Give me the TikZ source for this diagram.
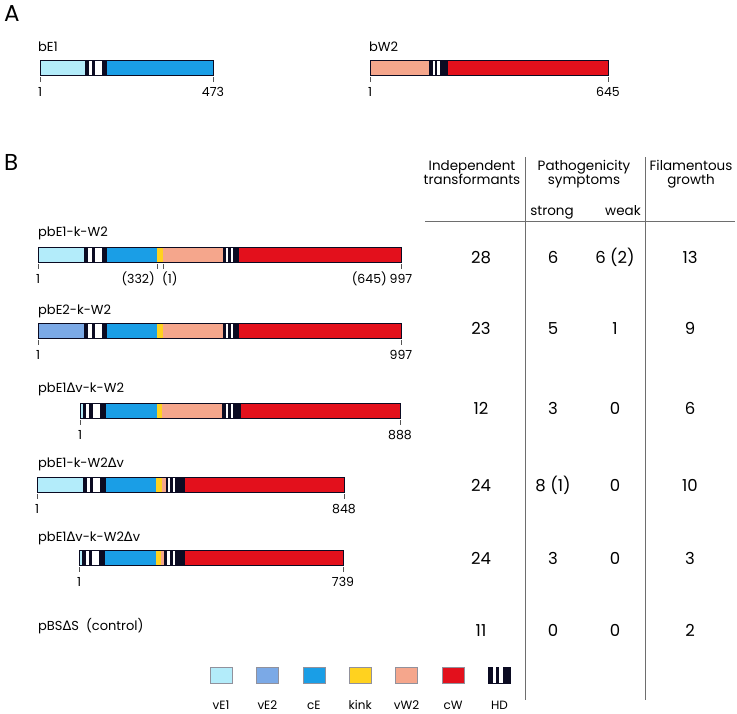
\documentclass[tikz,border=0pt]{standalone}
\usepackage{fontspec}
\setmainfont{Poppins}
\newfontfamily\grkfont{DejaVu Sans}
\usetikzlibrary{positioning}
\definecolor{vEone}{HTML}{B3ECFA}
\definecolor{vEtwo}{HTML}{7BA9E6}
\definecolor{cEcol}{HTML}{1A9EE6}
\definecolor{kinkcol}{HTML}{FFD21F}
\definecolor{vWtwo}{HTML}{F5A68C}
\definecolor{cWcol}{HTML}{E3101C}
\definecolor{hdblack}{HTML}{0B0B22}
\definecolor{tickgray}{HTML}{555555}
\definecolor{rulegray}{HTML}{6E6E6E}
\newcommand{\dlt}{{\grkfont\char"0394}}
\newcommand{\segm}[4]{\fill[#4] (#1,#3) rectangle (#2,#3+15);}
\newcommand{\hdseg}[4]{\fill[hdblack] (#1,#3) rectangle (#2,#3+15);
  \foreach \wa/\wb in {#4} {\fill[white] (\wa,#3) rectangle (\wb,#3+15);}}
\newcommand{\tickat}[4]{\draw[tickmark] (#1,#2+17) -- (#1,#2+22);
  \node[posn] (#4) at (#1,#2+36) {#3};}

\begin{document}
\begin{tikzpicture}[
    x=1pt, y=-1pt,
    panel/.style={font=\fontsize{23}{25}\selectfont, anchor=base west, inner sep=0pt},
    lbl/.style={font=\fontsize{13}{15}\selectfont, anchor=base west, inner sep=0pt},
    posn/.style={font=\fontsize{12.5}{14}\selectfont, anchor=base, inner sep=0pt},
    hdr/.style={font=\fontsize{13.5}{15}\selectfont, anchor=base, inner sep=0pt},
    num/.style={font=\fontsize{16.5}{18}\selectfont, anchor=base, inner sep=0pt},
    legbox/.style={rectangle, draw=hdblack!45, line width=0.4pt, minimum width=22pt, minimum height=16pt, inner sep=0pt},
    legtxt/.style={font=\fontsize{12}{14}\selectfont, anchor=base, inner sep=0pt},
    tickmark/.style={draw=tickgray, line width=0.6pt},
    barline/.style={draw=hdblack, line width=0.6pt},
    rule/.style={draw=rulegray, line width=0.7pt}
]
\fill[white] (0,0) rectangle (737,713);
\useasboundingbox (0,0) rectangle (737,713);

\node[panel] (panA) at (4,21) {A};
\node[lbl] (nbEone) at (38,51) {bE1};
\segm{40}{85}{60}{vEone}
\hdseg{85}{107}{60}{89/92,95/102}
\segm{107}{213}{60}{cEcol}
\draw[barline] (40,60) rectangle (213,75);
\tickat{40}{60}{1}{aEa}
\tickat{213}{60}{473}{aEb}

\node[lbl] (nbWtwo) at (369,51) {bW2};
\segm{370}{429}{60}{vWtwo}
\hdseg{429}{448}{60}{433/435,437/440}
\segm{448}{608}{60}{cWcol}
\draw[barline] (370,60) rectangle (608,75);
\tickat{370}{60}{1}{aWa}
\tickat{608}{60}{645}{aWb}

\node[panel] (panB) at (4,170) {B};

\node[lbl] (rowone) at (38,236) {pbE1-k-W2};
\segm{38}{84}{247}{vEone}
\hdseg{84}{107}{247}{88/92,95/102}
\segm{107}{157}{247}{cEcol}
\segm{157}{163}{247}{kinkcol}
\segm{163}{223}{247}{vWtwo}
\hdseg{223}{239}{247}{226/228,231/233}
\segm{239}{401}{247}{cWcol}
\draw[barline] (38,247) rectangle (401,262);
\tickat{38}{247}{1}{oa}
\tickat{401}{247}{997}{ob}
\draw[tickmark] (157,264) -- (157,269);
\draw[tickmark] (163,264) -- (163,269);
\node[posn, anchor=base east] (oc) at (155,283) {(332)};
\node[posn, anchor=base west] (od) at (162,283) {(1)};
\node[posn, anchor=base east] (oe) at (387,283) {(645)};

\node[lbl] (rowtwo) at (38,314) {pbE2-k-W2};
\segm{38}{84}{323}{vEtwo}
\hdseg{84}{107}{323}{88/92,95/102}
\segm{107}{157}{323}{cEcol}
\segm{157}{163}{323}{kinkcol}
\segm{163}{223}{323}{vWtwo}
\hdseg{223}{239}{323}{226/228,231/233}
\segm{239}{401}{323}{cWcol}
\draw[barline] (38,323) rectangle (401,338);
\tickat{38}{323}{1}{ta}
\tickat{401}{323}{997}{tb}

\node[lbl] (rowthree) at (38,392) {pbE1\dlt v-k-W2};
\segm{80}{83}{403}{vEone}
\hdseg{83}{106}{403}{86/89,93/100}
\segm{106}{157}{403}{cEcol}
\segm{157}{162}{403}{kinkcol}
\segm{162}{222}{403}{vWtwo}
\hdseg{222}{241}{403}{226/228,231/233}
\segm{241}{400}{403}{cWcol}
\draw[barline] (80,403) rectangle (400,418);
\tickat{80}{403}{1}{ha}
\tickat{400}{403}{888}{hb}

\node[lbl] (rowfour) at (38,467) {pbE1-k-W2\dlt v};
\segm{37}{83}{477}{vEone}
\hdseg{83}{106}{477}{87/90,93/100}
\segm{106}{156}{477}{cEcol}
\segm{156}{162}{477}{kinkcol}
\segm{162}{166}{477}{vWtwo}
\hdseg{166}{185}{477}{168/170,173/175}
\segm{185}{344}{477}{cWcol}
\draw[barline] (37,477) rectangle (344,492);
\tickat{37}{477}{1}{fa}
\tickat{344}{477}{848}{fb}

\node[lbl] (rowfive) at (38,541) {pbE1\dlt v-k-W2\dlt v};
\segm{79}{82}{550}{vEone}
\hdseg{82}{105}{550}{86/89,92/99}
\segm{105}{156}{550}{cEcol}
\segm{156}{161}{550}{kinkcol}
\segm{161}{164}{550}{vWtwo}
\hdseg{164}{185}{550}{167/170,173/175}
\segm{185}{343}{550}{cWcol}
\draw[barline] (79,550) rectangle (343,565);
\tickat{79}{550}{1}{va}
\tickat{343}{550}{739}{vb}

\node[lbl] (rowsix) at (38,630) {pBS\dlt S\ \ (control)};

\node[hdr] (hIndA) at (472,170) {Independent};
\node[hdr] (hIndB) at (472,184) {transformants};
\node[hdr] (hPatA) at (584,170) {Pathogenicity};
\node[hdr] (hPatB) at (584,184) {symptoms};
\node[hdr] (hFilA) at (691,170) {Filamentous};
\node[hdr] (hFilB) at (691,184) {growth};
\node[hdr] (hStrong) at (552,215) {strong};
\node[hdr] (hWeak) at (623,215) {weak};
\draw[rule] (425,221) -- (735,221);
\draw[rule] (525,157) -- (525,700);
\draw[rule] (645,157) -- (645,700);

\foreach \yb/\va/\vb/\vc/\vd [count=\i] in {263/28/6/{6 (2)}/13, 334/23/5/1/9, 414/12/3/0/6,
    491/24/{8 (1)}/0/10, 564/24/3/0/3, 636/11/0/0/2} {
  \node[num] (r\i a) at (481,\yb) {\va};
  \node[num] (r\i b) at (553,\yb) {\vb};
  \node[num] (r\i c) at (615,\yb) {\vc};
  \node[num] (r\i d) at (690,\yb) {\vd};
}

\node[legbox, fill=vEone] (kvEone) at (221,675) {};
\node[legbox, fill=vEtwo, right=24pt of kvEone] (kvEtwo) {};
\node[legbox, fill=cEcol, right=24pt of kvEtwo] (kcE) {};
\node[legbox, fill=kinkcol, right=24pt of kcE] (kkink) {};
\node[legbox, fill=vWtwo, right=24pt of kkink] (kvWtwo) {};
\node[legbox, fill=cWcol, right=24pt of kvWtwo] (kcW) {};
\node[legbox, fill=hdblack, draw=hdblack, right=24pt of kcW] (kHD) {};
\fill[white] ([xshift=5pt]kHD.south west) rectangle ([xshift=8pt]kHD.north west);
\fill[white] ([xshift=11pt]kHD.south west) rectangle ([xshift=15pt]kHD.north west);

\node[legtxt, below=26pt of kvEone, anchor=base] (tvEone) {vE1};
\node[legtxt, below=26pt of kvEtwo, anchor=base] (tvEtwo) {vE2};
\node[legtxt, below=26pt of kcE, anchor=base] (tcE) {cE};
\node[legtxt, below=26pt of kkink, anchor=base] (tkink) {kink};
\node[legtxt, below=26pt of kvWtwo, anchor=base] (tvWtwo) {vW2};
\node[legtxt, below=26pt of kcW, anchor=base] (tcW) {cW};
\node[legtxt, below=26pt of kHD, anchor=base] (tHD) {HD};
\end{tikzpicture}
\end{document}
